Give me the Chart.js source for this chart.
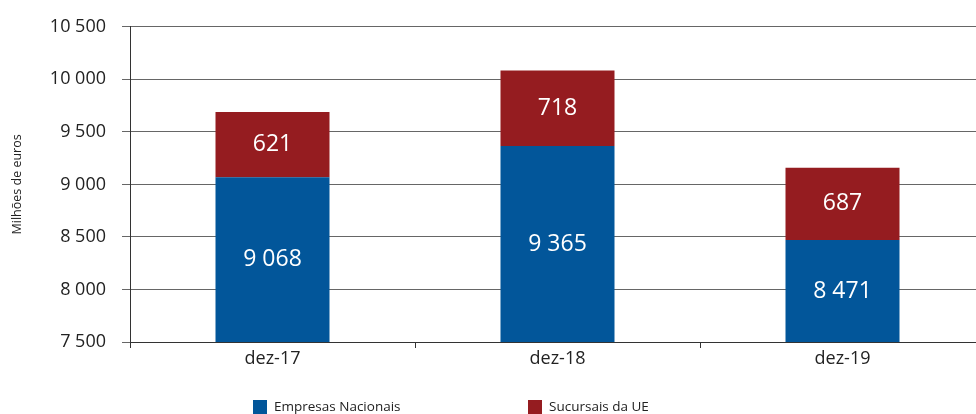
<!DOCTYPE html>
<html>
<head>
<meta charset="utf-8">
<script src="https://cdn.jsdelivr.net/npm/chart.js@4.4.1/dist/chart.umd.min.js"></script>
<style>
  html, body { margin: 0; padding: 0; background: #fff; overflow: hidden; }
  #wrap { width: 976px; height: 414px; overflow: hidden; }
  #box { width: 986px; height: 422px; }
</style>
</head>
<body>
<div id="wrap"><div id="box"><canvas id="stockChart"></canvas></div></div>
<script>
// Categorias e séries (milhões de euros)
const categories = ['dez-17', 'dez-18', 'dez-19'];
const empresasNacionais = [9068, 9365, 8471];
const sucursaisUE = [621, 718, 687];
const seriesNames = ['Empresas Nacionais', 'Sucursais da UE'];
const seriesColors = ['#02569A', '#951C20'];

const FONT = '"Open Sans", "DejaVu Sans", sans-serif';

// formato 9 068 (espaço como separador de milhares)
function fmt(v) {
    return String(v).replace(/\B(?=(\d{3})+(?!\d))/g, ' ');
}

// Rótulos brancos no centro da parte visível de cada segmento
const barLabels = {
    id: 'barLabels',
    afterDatasetsDraw(chart) {
        const ctx = chart.ctx;
        const area = chart.chartArea;
        ctx.save();
        ctx.fillStyle = '#ffffff';
        ctx.font = '23px ' + FONT;
        ctx.textAlign = 'center';
        ctx.textBaseline = 'middle';
        chart.data.datasets.forEach((ds, i) => {
            chart.getDatasetMeta(i).data.forEach((bar, j) => {
                const p = bar.getProps(['x', 'y', 'base'], true);
                const top = Math.max(p.y, area.top);
                const bottom = Math.min(p.base, area.bottom);
                ctx.fillText(fmt(ds.data[j]), p.x, (top + bottom) / 2);
            });
        });
        ctx.restore();
    }
};

// Legenda desenhada à mão (itens bem afastados, como no original)
const wideLegend = {
    id: 'wideLegend',
    afterDraw(chart) {
        const ctx = chart.ctx;
        const area = chart.chartArea;
        const startX = area.left + 123;
        const step = 275;
        const y = 407;
        ctx.save();
        ctx.font = '13.5px ' + FONT;
        ctx.textBaseline = 'middle';
        chart.data.datasets.forEach((ds, i) => {
            const x = startX + i * step;
            ctx.fillStyle = ds.backgroundColor;
            ctx.fillRect(x, y - 7, 14, 14);
            ctx.fillStyle = '#222';
            ctx.fillText(ds.label, x + 21, y);
        });
        ctx.restore();
    }
};

const data = {
    labels: categories,
    datasets: [{
        label: seriesNames[0],
        data: empresasNacionais,
        backgroundColor: seriesColors[0],
        barPercentage: 0.8,
        categoryPercentage: 0.5
    }, {
        label: seriesNames[1],
        data: sucursaisUE,
        backgroundColor: seriesColors[1],
        barPercentage: 0.8,
        categoryPercentage: 0.5
    }]
};

const config = {
    type: 'bar',
    data: data,
    options: {
        responsive: true,
        maintainAspectRatio: false,
        animation: false,
        layout: { padding: { top: 25, right: 1, bottom: 46, left: 0 } },
        plugins: {
            legend: { display: false },
            tooltip: { enabled: false }
        },
        scales: {
            x: {
                stacked: true,
                afterFit(scale) { scale.height = 34; },
                border: { color: '#333', width: 1 },
                grid: {
                    offset: true,
                    drawOnChartArea: false,
                    drawTicks: true,
                    tickLength: 6,
                    color: '#333'
                },
                ticks: {
                    color: '#222',
                    padding: 0,
                    font: { family: FONT, size: 18 }
                }
            },
            y: {
                stacked: true,
                min: 7500,
                max: 10500,
                afterFit(scale) { scale.width = 130; },
                border: { color: '#333', width: 1 },
                grid: {
                    color: '#666',
                    lineWidth: 1,
                    tickLength: 8
                },
                ticks: {
                    stepSize: 500,
                    color: '#222',
                    padding: 16,
                    font: { family: FONT, size: 18 },
                    callback: v => fmt(v)
                },
                title: {
                    display: true,
                    text: 'Milhões de euros',
                    color: '#222',
                    font: { family: FONT, size: 12.5 },
                    padding: { top: 10, bottom: 0 }
                }
            }
        }
    },
    plugins: [barLabels, wideLegend]
};

const ctx = document.getElementById('stockChart').getContext('2d');
new Chart(ctx, config);
</script>
</body>
</html>
